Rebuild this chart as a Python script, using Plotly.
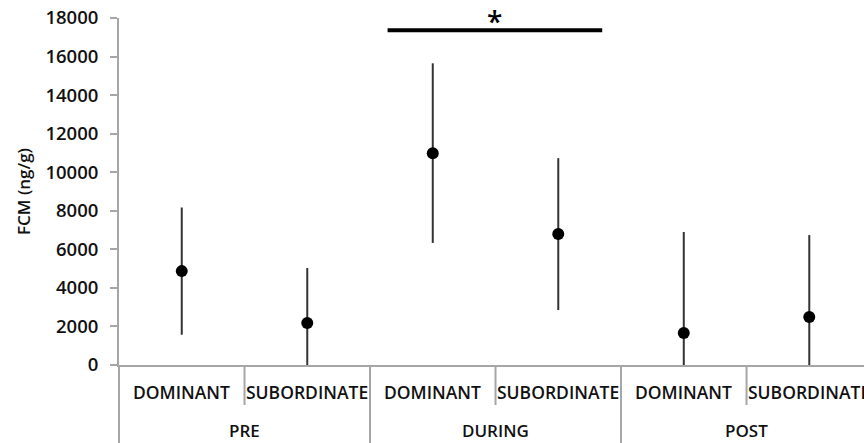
import plotly.graph_objects as go

# ---- data ----
groups = ["PRE", "DURING", "POST"]
subgroups = ["DOMINANT", "SUBORDINATE"]
categories = [f"{g} {s}" for g in groups for s in subgroups]
fcm_mean = [4870, 2180, 10990, 6790, 1660, 2490]
fcm_err = [3300, 2850, 4660, 3940, 5240, 4250]
y_ticks = [0, 2000, 4000, 6000, 8000, 10000, 12000, 14000, 16000, 18000]
sig_bar = {"x0": 1.64, "x1": 3.35, "y": 17370, "label": "*"}

FONT = "Open Sans"
GRAY = "#a6a6a6"
TXT = "#111111"
W = 600

fig = go.Figure()
fig.add_trace(go.Scatter(
    x=categories, y=fcm_mean, mode="markers",
    marker=dict(color="black", size=12),
    error_y=dict(type="data", array=fcm_err, visible=True, width=0,
                 thickness=2, color="#333333"),
    showlegend=False,
))

# plot area geometry (pixels) used to place axis decorations below the plot
H, B, T = 443, 78, 18
plot_h = H - B - T
def py(px_below):
    return -px_below / plot_h

shapes = []
# left vertical line continuing the y axis down through the label area
shapes.append(dict(type="line", xref="paper", yref="paper", x0=0, x1=0,
                   y0=0, y1=py(78), line=dict(color=GRAY, width=2)))
n = len(categories)
for i in range(n):
    b = i + 0.5
    long = (i % 2 == 1)
    shapes.append(dict(type="line", xref="x", yref="paper", x0=b, x1=b,
                       y0=0, y1=py(78) if long else py(40),
                       line=dict(color=GRAY, width=2)))
# significance bar
shapes.append(dict(type="line", xref="x", yref="y", x0=sig_bar["x0"],
                   x1=sig_bar["x1"], y0=sig_bar["y"], y1=sig_bar["y"],
                   line=dict(color="black", width=4)))

annotations = []
for i, c in enumerate(categories):
    annotations.append(dict(x=c, xref="x", y=py(27), yref="paper",
                            text=subgroups[i % 2], showarrow=False,
                            xanchor="center", yanchor="middle",
                            font=dict(family=FONT, size=17.5, color=TXT, weight=W)))
for gi, g in enumerate(groups):
    annotations.append(dict(x=gi * 2 + 0.5, xref="x", y=py(65), yref="paper",
                            text=g, showarrow=False, xanchor="center",
                            yanchor="middle",
                            font=dict(family=FONT, size=17, color=TXT, weight=W)))
annotations.append(dict(x=(sig_bar["x0"] + sig_bar["x1"]) / 2, xref="x",
                        y=sig_bar["y"], yref="y", text=sig_bar["label"],
                        showarrow=False, xanchor="center", yanchor="bottom",
                        yshift=-12,
                        font=dict(family=FONT, size=28, color="black", weight=W)))

fig.update_layout(
    width=864, height=443,
    margin=dict(l=119, r=0, t=T, b=B),
    paper_bgcolor="white", plot_bgcolor="white",
    shapes=shapes, annotations=annotations,
    xaxis=dict(type="category", categoryorder="array", categoryarray=categories,
               range=[-0.5, 5.436], showticklabels=False, ticks="",
               showline=True, linecolor=GRAY, linewidth=2, showgrid=False,
               zeroline=False),
    yaxis=dict(range=[0, 18000], tickvals=y_ticks,
               ticktext=[str(v) for v in y_ticks],
               ticks="outside", ticklen=7, tickcolor=GRAY, tickwidth=2,
               showline=True, linecolor=GRAY, linewidth=2, showgrid=False,
               zeroline=False, ticklabelstandoff=8,
               tickfont=dict(family=FONT, size=18.5, color=TXT, weight=W),
               title=dict(text="FCM (ng/g)", standoff=10,
                          font=dict(family=FONT, size=17, color=TXT, weight=W))),
)

fig.write_html("out.html")
